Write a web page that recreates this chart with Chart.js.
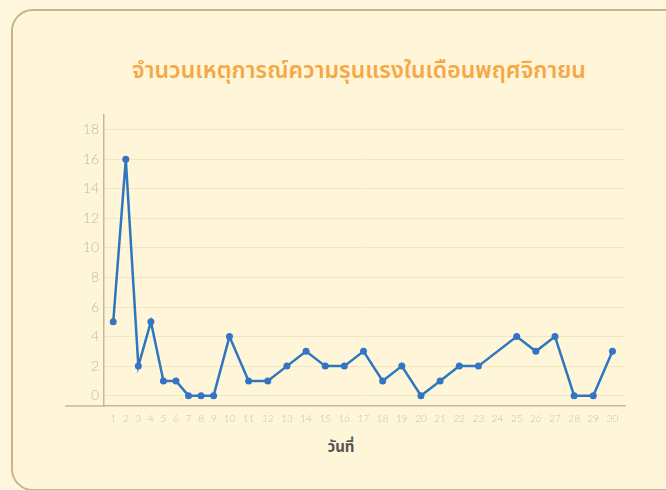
<!DOCTYPE html>
<html>
<head>
<meta charset="utf-8">
<script src="https://cdn.jsdelivr.net/npm/chart.js@4/dist/chart.umd.min.js"></script>
<style>
    html, body { margin: 0; padding: 0; background: #fef7de; }
    #wrap { position: relative; width: 666px; height: 490px; overflow: hidden; }
    .card {
        position: absolute; left: 11px; top: 9px; width: 700px; height: 478px;
        border: 2.5px solid #c8b38f; border-radius: 22px; background: #fff6d9;
    }
    .title {
        position: absolute; left: 0; width: 718px; top: 54px; text-align: center;
        font-family: "Noto Sans Thai", "Noto Sans", sans-serif; font-size: 23px; font-weight: 600;
        color: #f6a845;
    }
    .xtitle {
        position: absolute; left: 241px; width: 200px; top: 436px; text-align: center;
        font-family: "Noto Sans Thai", "Noto Sans", sans-serif; font-size: 15px; font-weight: 700;
        color: #555555;
    }
    canvas { position: absolute; left: 0; top: 0; }
</style>
</head>
<body>
<div id="wrap">
    <div class="card"></div>
    <div class="title">จำนวนเหตุการณ์ความรุนแรงในเดือนพฤศจิกายน</div>
    <div class="xtitle">วันที่</div>
    <canvas id="chart" width="666" height="490"></canvas>
</div>
<script>
// days of November
const days = ['1', '2', '3', '4', '5', '6', '7', '8', '9', '10',
    '11', '12', '13', '14', '15', '16', '17', '18', '19', '20',
    '21', '22', '23', '24', '25', '26', '27', '28', '29', '30'];
// incidents per day (day 24 has no value)
const incidents = [5, 16, 2, 5, 1, 1, 0, 0, 0, 4,
    1, 1, 2, 3, 2, 2, 3, 1, 2, 0,
    1, 2, 2, null, 4, 3, 4, 0, 0, 3];
const yTicks = [0, 1, 2, 3, 4, 5, 6, 7, 8, 9, 10, 11, 12, 13, 14, 15, 16, 17, 18];

// category axis whose labels are packed by their text length, like the original
class PackedCategoryScale extends Chart.CategoryScale {
    static id = 'packedCategory';
    static defaults = Chart.CategoryScale.defaults;

    getPixelForValue(value) {
        if (typeof value !== 'number') value = this.parse(value);
        if (value === null || isNaN(value)) return NaN;
        const labels = this.getLabels();
        const gap = 0.9;
        let total = gap;
        const centers = labels.map(l => {
            const w = String(l).length;
            const c = total + w / 2;
            total += w + gap;
            return c;
        });
        return this.getPixelForDecimal(centers[value] / total);
    }
}
Chart.register(PackedCategoryScale);

const axisColor = '#c6b998';

// the x axis line runs on a bit past the y axis
const axisExtension = {
    id: 'axisExtension',
    afterDraw(chart) {
        const { ctx, chartArea } = chart;
        ctx.save();
        ctx.strokeStyle = axisColor;
        ctx.lineWidth = 1.5;
        ctx.beginPath();
        ctx.moveTo(chartArea.left - 39, chartArea.bottom);
        ctx.lineTo(chartArea.left, chartArea.bottom);
        ctx.stroke();
        ctx.restore();
    }
};

new Chart(document.getElementById('chart'), {
    type: 'line',
    data: {
        labels: days,
        datasets: [{
            label: 'จำนวนเหตุการณ์',
            data: incidents,
            borderColor: '#2e76c0',
            backgroundColor: '#2e76c0',
            pointBackgroundColor: '#3275c2',
            pointBorderWidth: 0,
            borderWidth: 2.5,
            pointRadius: 3.5,
            tension: 0,
            spanGaps: true
        }]
    },
    options: {
        responsive: false,
        animation: false,
        layout: {
            padding: { left: 60, right: 41, top: 115, bottom: 60 }
        },
        plugins: {
            legend: { display: false },
            title: { display: false },
            tooltip: { enabled: false }
        },
        scales: {
            x: {
                type: 'packedCategory',
                offset: false,
                afterFit: scale => { scale.height = 24; },
                grid: { display: false, drawTicks: false },
                border: { color: axisColor, width: 1.5 },
                ticks: {
                    autoSkip: false,
                    maxRotation: 0,
                    padding: 7,
                    color: '#c9c2ad',
                    font: { family: 'Lato', size: 10, weight: 300 }
                }
            },
            y: {
                min: -0.7,
                max: 19,
                afterFit: scale => { scale.width = 44; },
                afterBuildTicks: scale => { scale.ticks = yTicks.map(v => ({ value: v })); },
                grid: { color: '#f2e7c4', lineWidth: 1, drawTicks: false },
                border: { color: axisColor, width: 1.5 },
                ticks: {
                    padding: 5,
                    color: '#c0b9a5',
                    font: { family: 'Lato', size: 14, weight: 300 },
                    callback: v => (v % 2 === 0 ? v : '')
                }
            }
        }
    },
    plugins: [axisExtension]
});
</script>
</body>
</html>
